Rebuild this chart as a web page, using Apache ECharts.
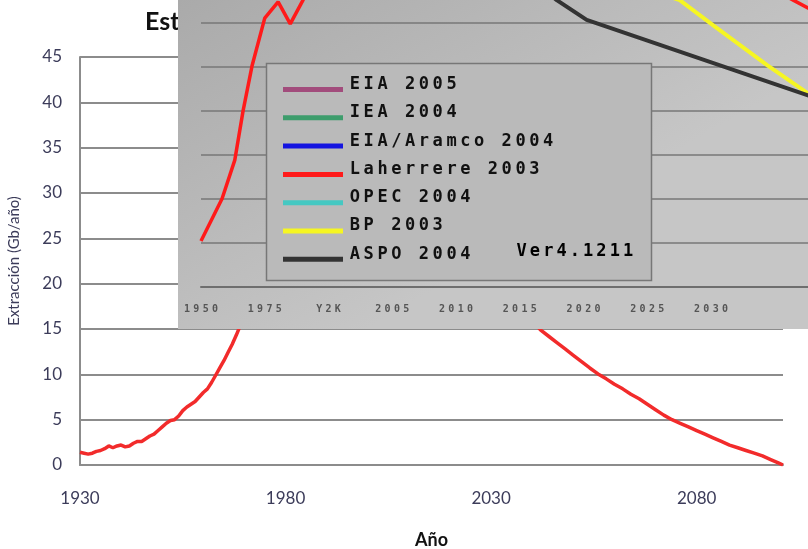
<!DOCTYPE html>
<html>
<head>
<meta charset="utf-8">
<script src="https://cdn.jsdelivr.net/npm/echarts@6/dist/echarts.min.js"></script>
<style>
  html, body { margin: 0; padding: 0; background: #fff; }
  #chart { width: 808px; height: 549px; }
</style>
</head>
<body>
<div id="chart"></div>
<script>
  // main chart: yearly extraction (Gb/año)
  var mainYears = [1930, 1931, 1932, 1933, 1934, 1935, 1936, 1937, 1938, 1939,
    1940, 1941, 1942, 1943, 1944, 1945, 1946, 1947, 1948, 1949,
    1950, 1951, 1952, 1953, 1954, 1955, 1956, 1957, 1958, 1959,
    1960, 1961, 1962, 1963, 1964, 1965, 1966, 1967, 1968, 1969,
    1970, 1975, 1980, 1990, 2000, 2010, 2020, 2030, 2038, 2041,
    2042, 2044, 2046, 2048, 2050, 2052, 2054, 2056, 2058, 2060,
    2062, 2064, 2066, 2068, 2070, 2072, 2074, 2076, 2078, 2080,
    2082, 2084, 2086, 2088, 2090, 2092, 2094, 2096, 2098, 2100, 2101];
  var mainValues = [1.4, 1.3, 1.2, 1.3, 1.5, 1.6, 1.8, 2.1, 1.9, 2.1,
    2.2, 2.0, 2.1, 2.4, 2.6, 2.6, 2.9, 3.2, 3.4, 3.8,
    4.2, 4.6, 4.9, 5.0, 5.4, 6.0, 6.4, 6.7, 7.0, 7.5,
    8.0, 8.4, 9.1, 9.9, 10.7, 11.5, 12.4, 13.3, 14.3, 15.4,
    16.5, 20.5, 23.5, 25.5, 27.5, 29.0, 27.0, 22.0, 17.2, 15.4,
    14.9, 14.2, 13.5, 12.8, 12.1, 11.4, 10.7, 10.05, 9.5, 8.9,
    8.4, 7.8, 7.3, 6.7, 6.1, 5.5, 5.0, 4.6, 4.2, 3.8,
    3.4, 3.0, 2.6, 2.2, 1.9, 1.6, 1.3, 1.0, 0.6, 0.2, 0.0];

  // pasted inset: forecasts (Mb/d) against the inset's tick positions
  var insetTicks = ['1950', '1975', 'Y2K', '2005', '2010', '2015', '2020', '2025', '2030'];
  var eia2005 = [[2, 77], [4, 86], [6, 96], [8, 106], [10, 116]];
  var iea2004 = [[2, 77], [4, 84], [6, 92], [8, 100], [10, 108]];
  var eiaAramco2004 = [[2, 77], [4, 88], [6, 100], [8, 112], [10, 124]];
  var laherrere2003 = [[0, 10.4], [0.33, 20], [0.53, 28.8], [0.66, 40], [0.8, 50.2], [1, 61.1],
    [1.21, 64.8], [1.4, 59.8], [1.6, 65.2], [2, 77], [4, 86], [6, 85], [8, 75], [9.29, 65.2], [9.52, 63.4], [10, 60]];
  var opec2004 = [[2, 77], [4, 83], [6, 90], [8, 98], [10, 106]];
  var bp2003 = [[2, 77], [4, 80], [5.5, 75], [6.5, 70], [7.51, 65.2], [8.03, 59.5], [8.88, 50.4], [9.51, 44.1], [10, 40]];
  var aspo2004 = [[2, 77], [4, 78], [5, 72], [5.58, 65.2], [6.05, 60.7], [9.51, 43.6], [10, 41.2]];

  var legendNames = ['EIA 2005', 'IEA 2004', 'EIA/Aramco 2004', 'Laherrere 2003', 'OPEC 2004', 'BP 2003', 'ASPO 2004'];
  var legendColors = ['#a24c7c', '#3d9d6c', '#1414e0', '#ff1a1a', '#45c8c2', '#f6f622', '#333333'];
  var insetData = [eia2005, iea2004, eiaAramco2004, laherrere2003, opec2004, bp2003, aspo2004];

  // the inset's old bitmap font is very widely tracked
  function spaced(s, key) {
    return s.split('').map(function (ch) { return '{' + key + '|' + ch + '}'; }).join('');
  }

  var chart = echarts.init(document.getElementById('chart'));

  var insetSeries = legendNames.map(function (name, i) {
    return {
      name: name,
      type: 'line',
      xAxisIndex: 1,
      yAxisIndex: 1,
      data: insetData[i],
      showSymbol: false,
      color: legendColors[i],
      lineStyle: { color: legendColors[i], width: name === 'Laherrere 2003' ? 3.5 : 4 },
      z: 7,
      silent: true
    };
  });

  chart.setOption({
    animation: false,
    title: {
      text: 'Estimación',
      left: 140,
      top: 4,
      z: 0,
      textStyle: { fontFamily: 'Lato', fontWeight: 'bold', fontSize: 25, color: '#111' }
    },
    grid: [
      { left: 80, right: 25, top: 57, bottom: 84, outerBoundsMode: 'none' },
      { left: 201, top: -21, width: 637.5, height: 307.7, outerBoundsMode: 'none' }
    ],
    xAxis: [
      {
        type: 'value',
        gridIndex: 0,
        min: 1930,
        max: 2101,
        interval: 50,
        name: 'Año',
        nameLocation: 'middle',
        nameGap: 66,
        nameTextStyle: { fontFamily: 'Lato', fontWeight: 'bold', fontSize: 18, color: '#111' },
        axisLine: { lineStyle: { color: '#8c8c8c', width: 2 } },
        axisTick: { show: false },
        splitLine: { show: false },
        axisLabel: {
          margin: 25, showMaxLabel: false, fontFamily: 'Lato', fontSize: 17, color: '#3c3c5a',
          formatter: function (v) { return String(v); }
        }
      },
      {
        type: 'value',
        gridIndex: 1,
        min: 0,
        max: 10,
        interval: 1,
        z: 6,
        axisLine: { lineStyle: { color: '#6e6e6e', width: 2 } },
        axisTick: { show: false },
        splitLine: { show: false },
        axisLabel: {
          margin: 18,
          formatter: function (v) { return insetTicks[v] ? spaced(insetTicks[v], 't') : ''; },
          rich: { t: { width: 9.3, align: 'center', fontFamily: 'DejaVu Sans Mono', fontWeight: 'bold', fontSize: 10, color: '#555' } }
        }
      }
    ],
    yAxis: [
      {
        type: 'value',
        gridIndex: 0,
        min: 0,
        max: 45,
        interval: 5,
        name: 'Extracción (Gb/año)',
        nameLocation: 'middle',
        nameGap: 58,
        nameTextStyle: { fontFamily: 'Lato', fontSize: 15, color: '#3c3c5a' },
        axisLine: { show: true, lineStyle: { color: '#8c8c8c', width: 2 } },
        axisTick: { show: false },
        splitLine: { lineStyle: { color: '#8c8c8c', width: 2 } },
        axisLabel: { margin: 18, fontFamily: 'Lato', fontSize: 17, color: '#3c3c5a' }
      },
      {
        type: 'value',
        gridIndex: 1,
        min: 0,
        max: 70,
        interval: 10,
        z: 6,
        axisLine: { show: false },
        axisTick: { show: false },
        axisLabel: { show: false },
        splitLine: { lineStyle: { color: '#777', width: 1.5 } }
      }
    ],
    legend: {
      orient: 'vertical',
      left: 283,
      top: 76,
      padding: 0,
      itemGap: 1.3,
      itemWidth: 60,
      itemHeight: 5,
      icon: 'rect',
      selectedMode: false,
      z: 9,
      data: legendNames,
      formatter: function (name) { return spaced(name, 'c'); },
      textStyle: {
        rich: {
          c: {
            width: 13.8, align: 'center', padding: [0, 0, 10, 0],
            fontFamily: 'DejaVu Sans Mono', fontWeight: 'bold', fontSize: 17, lineHeight: 18, color: '#111'
          }
        }
      }
    },
    graphic: [
      {
        type: 'rect',
        z: 5,
        silent: true,
        shape: { x: 178, y: 0, width: 630, height: 329 },
        style: {
          fill: new echarts.graphic.LinearGradient(0, 0, 0.3, 1, [
            { offset: 0, color: '#aaaaaa' },
            { offset: 1, color: '#c6c6c6' }
          ])
        }
      },
      {
        type: 'rect',
        z: 8,
        silent: true,
        shape: { x: 266.5, y: 63.5, width: 385, height: 217 },
        style: { fill: '#bababa', stroke: '#777', lineWidth: 1.5 }
      },
      {
        type: 'text',
        z: 9,
        silent: true,
        x: 515,
        y: 252,
        style: {
          text: spaced('Ver4.1211', 'v'),
          verticalAlign: 'middle',
          rich: { v: { width: 13.3, align: 'center', fontFamily: 'DejaVu Sans Mono', fontWeight: 'bold', fontSize: 17, color: '#111' } }
        }
      }
    ],
    series: [
      {
        name: 'Extracción',
        type: 'line',
        xAxisIndex: 0,
        yAxisIndex: 0,
        data: mainYears.map(function (y, i) { return [y, mainValues[i]]; }),
        showSymbol: false,
        color: '#f22b2b',
        lineStyle: { color: '#f22b2b', width: 3.5 },
        z: 2,
        silent: true
      }
    ].concat(insetSeries)
  });
</script>
</body>
</html>
